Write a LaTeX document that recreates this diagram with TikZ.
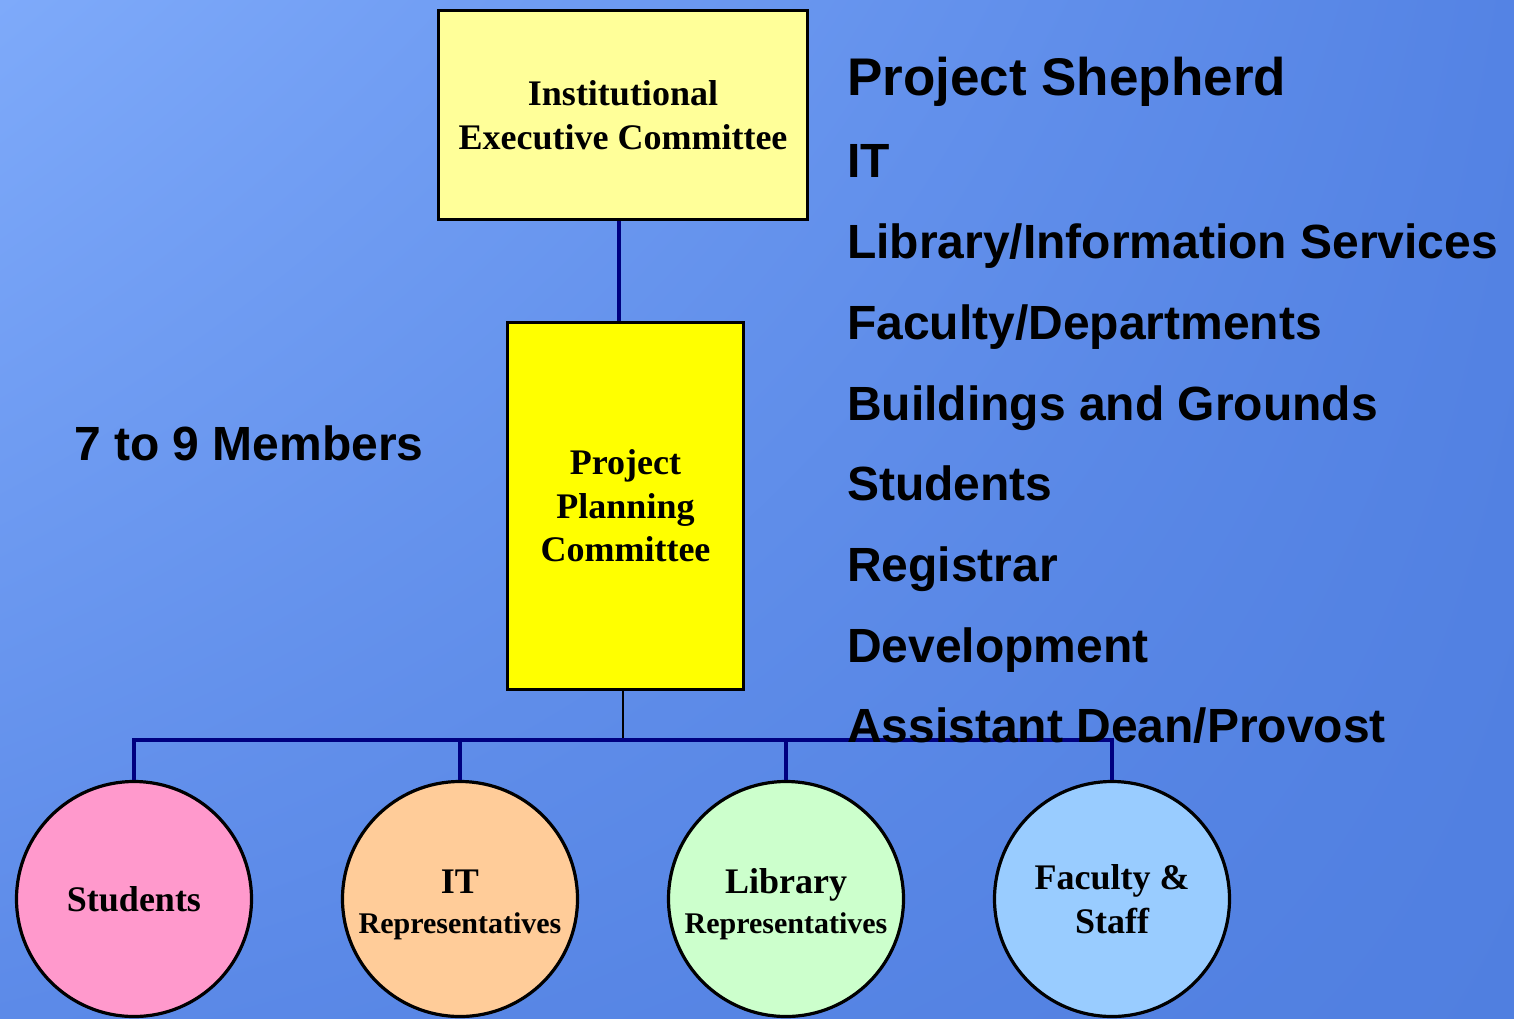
\documentclass[tikz,border=0pt]{standalone}
\usepackage{fontspec}
\usetikzlibrary{shadings}
\setmainfont{Liberation Serif}
\newfontfamily\sansb{Liberation Sans}
\definecolor{navyline}{RGB}{0,0,128}
\definecolor{boxA}{RGB}{255,255,153}
\definecolor{boxB}{RGB}{255,255,0}
\definecolor{cStud}{RGB}{255,153,204}
\definecolor{cIT}{RGB}{255,204,153}
\definecolor{cLib}{RGB}{204,255,204}
\definecolor{cFac}{RGB}{153,204,255}
\definecolor{bgUL}{RGB}{126,170,250}
\definecolor{bgUR}{RGB}{84,131,228}
\definecolor{bgLL}{RGB}{92,138,232}
\definecolor{bgLR}{RGB}{80,127,224}
\begin{document}
\begin{tikzpicture}[x=1pt,y=-1pt,
  orgbox/.style={draw=black, line width=3pt, rectangle, inner sep=0pt, align=center,
    font=\bfseries\fontsize{36}{44}\selectfont},
  grp/.style={draw=black, line width=3.2pt, circle, minimum size=235pt, inner sep=0pt, align=center,
    font=\bfseries\fontsize{36}{40}\selectfont},
  link/.style={draw=navyline, line width=3.2pt},
  thinlink/.style={draw=black, line width=1.5pt},
  listtxt/.style={anchor=base west, inner sep=0pt, font=\sansb\bfseries\fontsize{48}{56}\selectfont}
]
\useasboundingbox (0,0) rectangle (1514,1018);
\clip (0,0) rectangle (1514,1018);
\shade[upper left=bgUL, upper right=bgUR, lower left=bgLL, lower right=bgLR] (0,0) rectangle (1514,1018);

% nodes
\node[orgbox, fill=boxA, minimum width=369pt, minimum height=209pt] (iec) at (623,115)
  {Institutional\\Executive Committee};
\node[orgbox, fill=boxB, minimum width=236pt, minimum height=367pt, font=\bfseries\fontsize{36}{43.5}\selectfont] (ppc) at (625.5,506)
  {Project\\Planning\\Committee};
\coordinate (bus) at (623,740);

\node[grp, fill=cStud] (stu) at (134,899) {Students};
\node[grp, fill=cIT] (itr) at (460,899) {\rule{0pt}{35pt}IT\\{\fontsize{30}{40}\selectfont Representatives}};
\node[grp, fill=cLib] (lib) at (786,899) {\rule{0pt}{35pt}Library\\{\fontsize{30}{40}\selectfont Representatives}};
\node[grp, fill=cFac, font=\bfseries\fontsize{36}{44}\selectfont] (fac) at (1112,899) {Faculty \&\\Staff};

% connectors
\draw[link] ([xshift=-4pt]iec.south) -- ([xshift=-4pt]iec.south |- ppc.north);
\draw[thinlink] (ppc.south -| bus) -- (bus);
\draw[link] (stu.north) -- (stu.north |- bus) -- (fac.north |- bus) -- (fac.north);
\draw[link] (itr.north) -- (itr.north |- bus);
\draw[link] (lib.north) -- (lib.north |- bus);

% texts
\node[anchor=base west, inner sep=0pt, font=\sansb\bfseries\fontsize{48}{56}\selectfont] (mem) at (74,460) {7 to 9 Members};
\node[listtxt, font=\sansb\bfseries\fontsize{53}{60}\selectfont] (l1) at (847,95) {Project Shepherd};
\node[listtxt] (l2) at (847,177) {IT};
\node[listtxt] (l3) at (847,258) {Library/Information Services};
\node[listtxt] (l4) at (847,339) {Faculty/Departments};
\node[listtxt] (l5) at (847,420) {Buildings and Grounds};
\node[listtxt] (l6) at (847,500) {Students};
\node[listtxt] (l7) at (847,581) {Registrar};
\node[listtxt] (l8) at (847,662) {Development};
\node[listtxt] (l9) at (847,742) {Assistant Dean/Provost};
\end{tikzpicture}
\end{document}
